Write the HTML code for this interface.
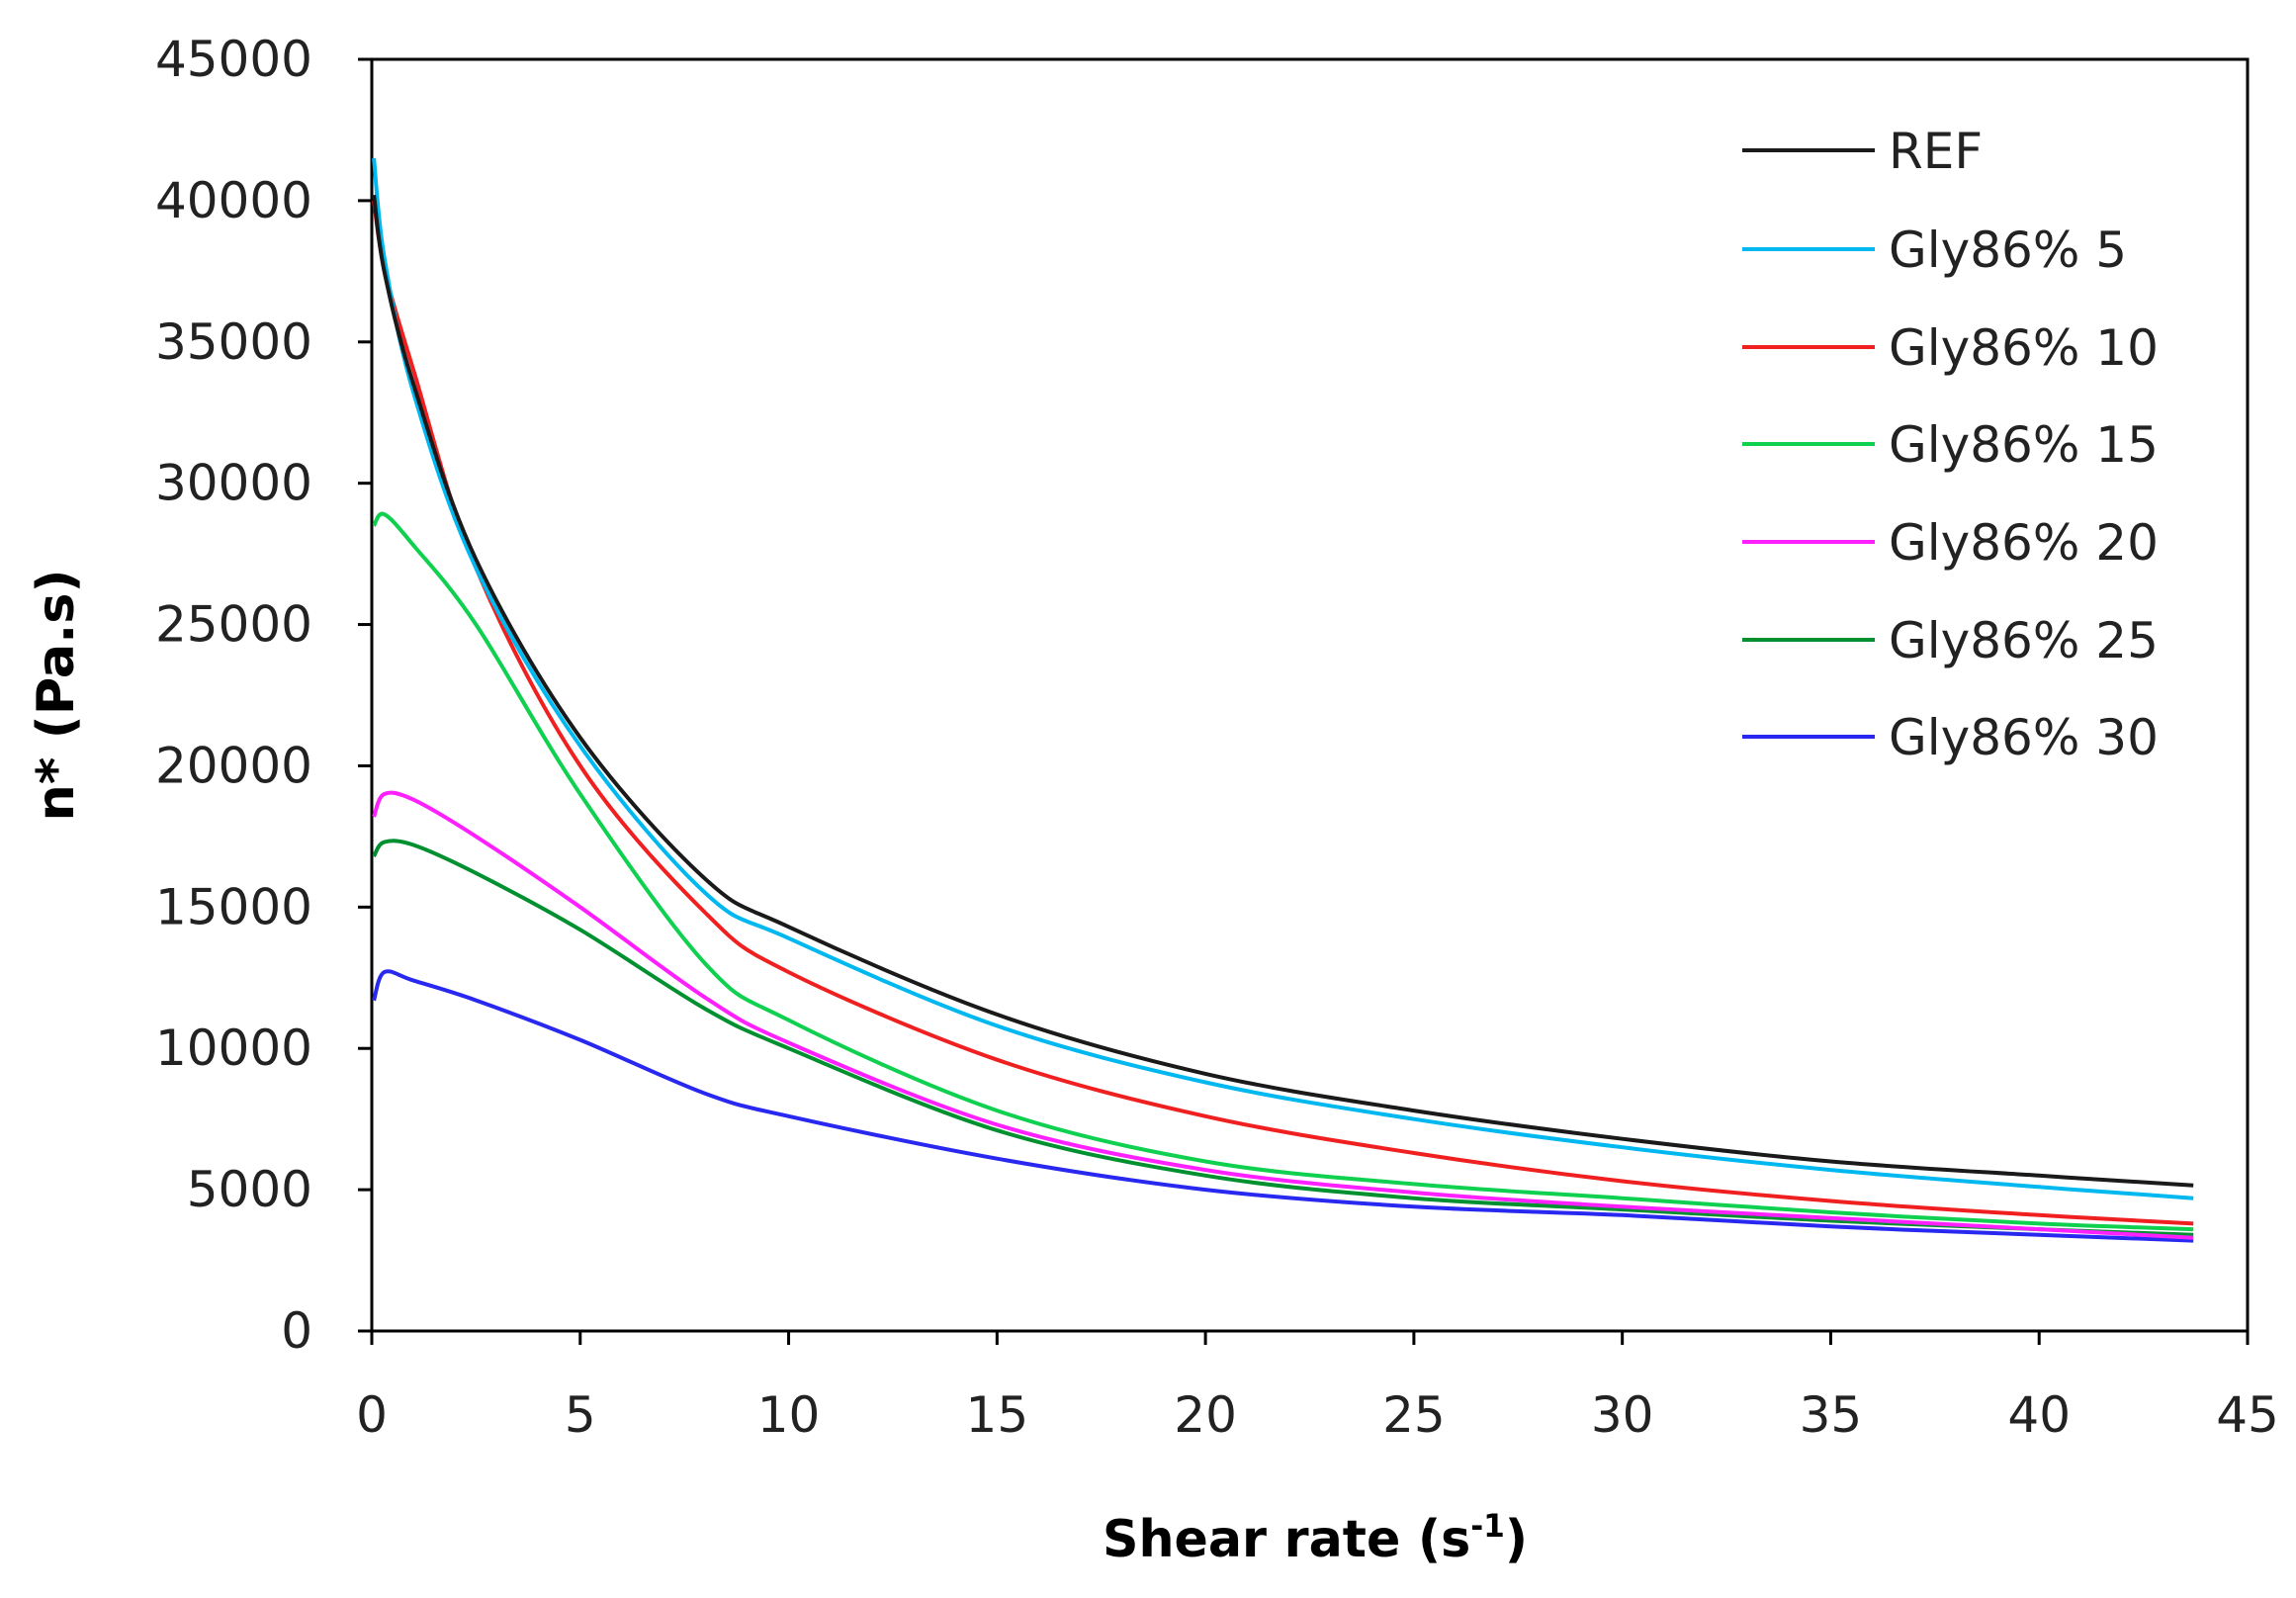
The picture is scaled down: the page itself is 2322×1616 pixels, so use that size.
<!DOCTYPE html>
<html><head><meta charset="utf-8"><style>
html,body{margin:0;padding:0;background:#fff;}
svg{display:block;font-family:"DejaVu Sans","Liberation Sans",sans-serif;}
</style></head><body>
<svg id="chart" width="2322" height="1616" viewBox="0 0 2322 1616" xmlns="http://www.w3.org/2000/svg">
<rect width="2322" height="1616" fill="#fff"/>
<g id="axes"></g>
<g id="series"></g>
<g id="legend"></g>
<text transform="translate(74,703) rotate(-90)" text-anchor="middle" font-weight="bold" font-size="52" textLength="255" lengthAdjust="spacingAndGlyphs">n* (Pa.s)</text>
<text x="1330" y="1574" text-anchor="middle" font-weight="bold" font-size="52" textLength="430" lengthAdjust="spacingAndGlyphs">Shear rate (s<tspan font-size="32" dy="-20">-1</tspan><tspan dy="20">)</tspan></text>
</svg>
<script>
const xTicks = [0,5,10,15,20,25,30,35,40,45];
const yTicks = [0,5000,10000,15000,20000,25000,30000,35000,40000,45000];
const seriesNames = ["REF","Gly86% 5","Gly86% 10","Gly86% 15","Gly86% 20","Gly86% 25","Gly86% 30"];
const seriesColors = ["#1a1a1a","#00b8f0","#f02020","#10d050","#ff20ff","#009030","#2828f0"];
const xs = [0.05,0.3,1,2.5,5,8,10,15,20,25,30,35,40,43.7];
const refVals = [40200,37500,33500,27300,21000,16000,14300,11200,9100,7800,6800,6000,5500,5150];
const g5Vals  = [41500,38000,33200,27000,20700,15500,13900,10800,8800,7500,6500,5700,5100,4700];
const g10Vals = [40000,37600,34000,27000,20000,14800,12700,9600,7600,6300,5300,4600,4100,3800];
const g15Vals = [28500,28900,27800,25000,19000,13000,11000,7800,6000,5200,4700,4200,3800,3600];
const g20Vals = [18200,19000,18800,17500,15000,11800,10200,7300,5700,4900,4400,4000,3600,3300];
const g25Vals = [16800,17300,17200,16200,14200,11400,10000,7100,5500,4700,4300,3900,3600,3400];
const g30Vals = [11700,12700,12400,11700,10300,8400,7600,6100,5000,4400,4100,3700,3400,3200];
const allVals = [refVals,g5Vals,g10Vals,g15Vals,g20Vals,g25Vals,g30Vals];

const NS="http://www.w3.org/2000/svg";
const X0=376,X1=2273,Y0=1346,Y1=60;
const sx=v=>X0+(v-0)/(45-0)*(X1-X0);
const sy=v=>Y0-(v-0)/(45000-0)*(Y0-Y1);
function mk(tag,attrs,parent){const e=document.createElementNS(NS,tag);for(const k in attrs)e.setAttribute(k,attrs[k]);parent.appendChild(e);return e;}
function smooth(pts){
  let d='M'+pts[0][0].toFixed(1)+','+pts[0][1].toFixed(1);
  for(let i=0;i<pts.length-1;i++){
    const p0=pts[Math.max(i-1,0)],p1=pts[i],p2=pts[i+1],p3=pts[Math.min(i+2,pts.length-1)];
    const c1=[p1[0]+(p2[0]-p0[0])/6,p1[1]+(p2[1]-p0[1])/6];
    const c2=[p2[0]-(p3[0]-p1[0])/6,p2[1]-(p3[1]-p1[1])/6];
    d+=' C'+c1[0].toFixed(1)+','+c1[1].toFixed(1)+' '+c2[0].toFixed(1)+','+c2[1].toFixed(1)+' '+p2[0].toFixed(1)+','+p2[1].toFixed(1);
  }
  return d;
}
const axes=document.getElementById('axes');
const frame=mk('rect',{x:X0,y:Y1,width:X1-X0,height:Y0-Y1,fill:'none',stroke:'#000','stroke-width':3},axes);


yTicks.forEach(t=>{
  const l=mk('line',{x1:X0-14,x2:X0,y1:sy(t),y2:sy(t),stroke:'#000','stroke-width':3},axes);
  
  
  const tx=mk('text',{x:316,y:sy(t)+17,'text-anchor':'end','font-size':50,fill:'#222'},axes);
  tx.textContent=t;
  
  
});
xTicks.forEach(t=>{
  const l=mk('line',{x1:sx(t),x2:sx(t),y1:Y0,y2:Y0+14,stroke:'#000','stroke-width':3},axes);
  
  
  const tx=mk('text',{x:sx(t),y:1448,'text-anchor':'middle','font-size':50,fill:'#222'},axes);
  tx.textContent=t;
  
  
});
const sg=document.getElementById('series');
for(let i=allVals.length-1;i>=0;i--){
  const pts=allVals[i].map((v,j)=>[sx(xs[j]),sy(v)]);
  const p=mk('path',{d:smooth(pts),fill:'none',stroke:seriesColors[i],'stroke-width':4,'stroke-linejoin':'round'},sg);
  
  
}
const lg=document.getElementById('legend');
const ly=[152,252,351,449,548,647,745];
seriesNames.forEach((n,i)=>{
  const l=mk('line',{x1:1762,x2:1896,y1:ly[i],y2:ly[i],stroke:seriesColors[i],'stroke-width':4},lg);
  
  
  const t=mk('text',{x:1910,y:ly[i]+18,'font-size':50,fill:'#222'},lg);
  t.textContent=n;
  
  
});
</script>
</body></html>
